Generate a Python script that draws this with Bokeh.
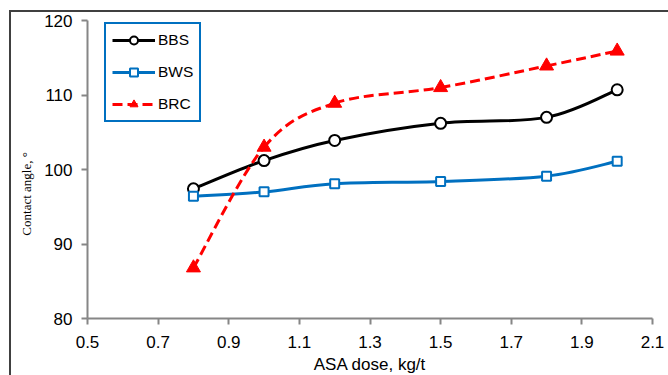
import numpy as np
from bokeh.plotting import figure
from bokeh.models import (ColumnDataSource, Legend, LegendItem, FixedTicker,
                          PrintfTickFormatter, Range1d)
from bokeh.embed import file_html
from bokeh.resources import INLINE

# ---- data ----
dose = [0.8, 1.0, 1.2, 1.5, 1.8, 2.0]
bbs = [97.4, 101.2, 103.9, 106.2, 107.0, 110.7]
bws = [96.4, 97.0, 98.1, 98.4, 99.1, 101.1]
brc = [86.8, 103.0, 108.9, 111.0, 113.9, 115.9]
x_ticks = [0.5, 0.7, 0.9, 1.1, 1.3, 1.5, 1.7, 1.9, 2.1]
y_ticks = [80, 90, 100, 110, 120]
series_names = ["BBS", "BWS", "BRC"]

BLACK = "#000000"
BLUE = "#0070C0"
RED = "#FF0000"
AXIS = "#868686"


def smooth_source(x, y):
    """Bezier segments (Catmull-Rom style, like a smoothed spreadsheet line)."""
    x = np.asarray(x, float)
    y = np.asarray(y, float)
    xp = np.concatenate([[x[0]], x, [x[-1]]])
    yp = np.concatenate([[y[0]], y, [y[-1]]])
    n = len(x)
    d = dict(x0=[], y0=[], x1=[], y1=[], cx0=[], cy0=[], cx1=[], cy1=[])
    for i in range(n - 1):
        p0x, p1x, p2x, p3x = xp[i], xp[i + 1], xp[i + 2], xp[i + 3]
        p0y, p1y, p2y, p3y = yp[i], yp[i + 1], yp[i + 2], yp[i + 3]
        d["x0"].append(p1x); d["y0"].append(p1y)
        d["x1"].append(p2x); d["y1"].append(p2y)
        d["cx0"].append(p1x + (p2x - p0x) / 6.0)
        d["cy0"].append(p1y + (p2y - p0y) / 6.0)
        d["cx1"].append(p2x - (p3x - p1x) / 6.0)
        d["cy1"].append(p2y - (p3y - p1y) / 6.0)
    return ColumnDataSource(d)


p = figure(width=657, height=363,
           x_range=Range1d(0.5, 2.1), y_range=Range1d(80, 120),
           output_backend="svg", toolbar_location=None,
           frame_width=565, frame_height=298,
           min_border_left=76, min_border_top=8, min_border_right=16,
           min_border_bottom=57)
p.styles = {"margin-left": "9px", "margin-top": "10px",
            "border-left": "2px solid #404040",
            "border-top": "2px solid #404040"}

p.outline_line_color = None
p.background_fill_color = "white"
p.border_fill_color = "white"
p.xgrid.visible = False
p.ygrid.visible = False

for ax in (p.xaxis[0], p.yaxis[0]):
    ax.axis_line_color = AXIS
    ax.axis_line_width = 2
    ax.major_tick_line_color = AXIS
    ax.major_tick_line_width = 2
    ax.major_tick_in = 0
    ax.major_tick_out = 6
    ax.minor_tick_line_color = None
    ax.major_label_text_font = "Liberation Sans"
    ax.major_label_text_font_size = "17px"
    ax.major_label_text_color = "#000000"
    ax.axis_label_text_color = "#000000"

p.xaxis.ticker = FixedTicker(ticks=x_ticks)
p.xaxis.formatter = PrintfTickFormatter(format="%.1f")
p.yaxis.ticker = FixedTicker(ticks=y_ticks)
p.xaxis.major_label_standoff = 11
p.yaxis.major_label_standoff = 9

p.xaxis.axis_label = "ASA dose, kg/t"
p.xaxis.axis_label_text_font = "Liberation Sans"
p.xaxis.axis_label_text_font_size = "17px"
p.xaxis.axis_label_text_font_style = "normal"
p.xaxis.axis_label_standoff = 4

p.yaxis.axis_label = "Contact angle, \u00b0" + "\u00a0" * 15
p.yaxis.axis_label_text_font = "Liberation Serif"
p.yaxis.axis_label_text_font_size = "13px"
p.yaxis.axis_label_text_font_style = "normal"
p.yaxis.axis_label_standoff = 7

# ---- smoothed lines ----
p.bezier(x0="x0", y0="y0", x1="x1", y1="y1", cx0="cx0", cy0="cy0",
         cx1="cx1", cy1="cy1", source=smooth_source(dose, bbs),
         line_color=BLACK, line_width=3)
p.bezier(x0="x0", y0="y0", x1="x1", y1="y1", cx0="cx0", cy0="cy0",
         cx1="cx1", cy1="cy1", source=smooth_source(dose, bws),
         line_color=BLUE, line_width=3)
p.bezier(x0="x0", y0="y0", x1="x1", y1="y1", cx0="cx0", cy0="cy0",
         cx1="cx1", cy1="cy1", source=smooth_source(dose, brc),
         line_color=RED, line_width=3, line_dash="10 5")

# ---- markers ----
m_bbs = p.scatter(dose, bbs, marker="circle", size=11, line_color=BLACK,
                  line_width=2, fill_color="white")
m_bws = p.scatter(dose, bws, marker="square", size=9, line_color=BLUE,
                  line_width=2, fill_color="white")
m_brc = p.scatter(dose, brc, marker="triangle", size=14, line_color=RED,
                  line_width=1, fill_color=RED)

# ---- legend helper lines (NaN data: drawn only as legend glyphs) ----
nan_src = dict(x=[float("nan")], y=[float("nan")])
l_bbs = p.line("x", "y", source=ColumnDataSource(nan_src), line_color=BLACK, line_width=3)
l_bws = p.line("x", "y", source=ColumnDataSource(nan_src), line_color=BLUE, line_width=3)
l_brc = p.line("x", "y", source=ColumnDataSource(nan_src), line_color=RED, line_width=3,
               line_dash="10 5")

legend = Legend(items=[
    LegendItem(label=series_names[0], renderers=[l_bbs, m_bbs]),
    LegendItem(label=series_names[1], renderers=[l_bws, m_bws]),
    LegendItem(label=series_names[2], renderers=[l_brc, m_brc]),
], location=(17, 196))
legend.border_line_color = BLUE
legend.border_line_alpha = 1.0
legend.border_line_width = 2
legend.background_fill_color = "white"
legend.background_fill_alpha = 1
legend.label_text_font = "Liberation Sans"
legend.label_text_font_size = "15.5px"
legend.label_text_color = "#000000"
legend.glyph_width = 43
legend.glyph_height = 20
legend.label_height = 20
legend.spacing = 12
legend.padding = 6
legend.margin = 0
legend.label_standoff = 3
p.add_layout(legend)

open("out.html", "w").write(file_html(p, INLINE))
